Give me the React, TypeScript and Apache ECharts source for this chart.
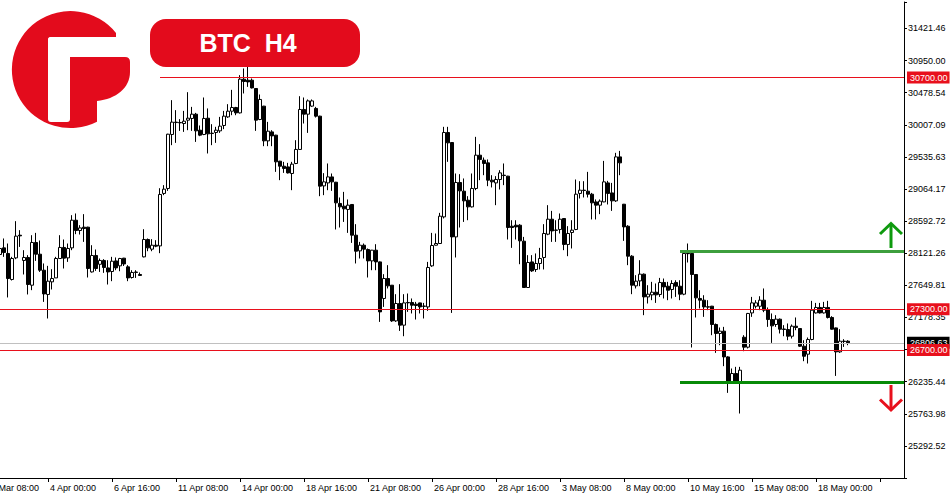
import React, { useEffect, useRef } from "react";
import * as echarts from "echarts";

// ---- x axis (one tick label every 16 H4 bars; first tick is 4 bars before bar 0)
const xTickLabels = [
  "30 Mar 08:00", "4 Apr 00:00", "6 Apr 16:00", "11 Apr 08:00", "14 Apr 00:00",
  "18 Apr 16:00", "21 Apr 08:00", "26 Apr 00:00", "28 Apr 16:00", "3 May 08:00",
  "8 May 00:00", "10 May 16:00", "15 May 08:00", "18 May 00:00",
];
const TICK_EVERY = 16;
const LEAD = 4;   // empty slots before first bar
const TRAIL = 14; // empty slots after last bar (chart shift)

// ---- y axis tick labels
const yTickLabels = [
  "25292.52", "25763.98", "26235.44", "26706.90", "27178.35", "27649.81", "28121.26",
  "28592.72", "29064.17", "29535.63", "30007.09", "30478.54", "30950.00", "31421.46",
];
const Y_STEP = 471.4569;
const Y_MIN = 24821.06;
const Y_MAX = 31810;

// ---- OHLC (BTC, H4)
const opens = [
  28103, 28200, 28118, 27736, 28053, 28386, 28015, 28059, 27652, 28279,
  28107, 27872, 27516, 27701, 27759, 28044, 28206, 28053, 28200, 28606,
  28455, 28504, 28504, 27847, 28088, 27959, 28015, 27906, 27853, 28009,
  27936, 28049, 27921, 27765, 27845, 27809, 28068, 28323, 28181, 28239,
  28229, 28999, 29072, 29865, 30046, 30041, 30026, 30075, 30100, 30163,
  29928, 29865, 30104, 29884, 29894, 29918, 29997, 30123, 30207, 30261,
  30182, 30677, 30662, 30662, 30540, 30085, 30281, 29771, 29903, 29855,
  29473, 29399, 29389, 29292, 29439, 29645, 30232, 30163, 30281, 30247,
  30134, 29110, 29154, 29242, 29164, 28852, 28812, 28764, 28837, 28386,
  28156, 28239, 28176, 28009, 28166, 27994, 27457, 27750, 27652, 27128,
  27383, 27065, 27398, 27398, 27373, 27392, 27345, 27333, 27936, 28239,
  28264, 28655, 29894, 29747, 28361, 29160, 29032, 28900, 28802, 29072,
  29561, 29487, 29448, 29194, 29154, 29204, 29267, 29253, 28518, 28533,
  28533, 28298, 27618, 27994, 27882, 27971, 28059, 28401, 28621, 28462,
  28470, 28631, 28250, 28426, 28470, 28999, 29047, 29032, 28988, 28875,
  28827, 28875, 29154, 29007, 28890, 29536, 28841, 28518, 28078, 27642,
  27715, 27814, 27480, 27510, 27549, 27516, 27692, 27637, 27589, 27692,
  27637, 27520, 28120, 28118, 27809, 27457, 27432, 27335, 27344, 27075,
  26943, 26977, 26599, 26232, 26355, 26232, 26888, 26742, 27245, 27343,
  27343, 27432, 27295, 27148, 27075, 27153, 27008, 27001, 26903, 27050,
  27016, 26756, 26639, 26855, 27245, 27325, 27245, 27325, 27178, 27025,
  26673, 26830, 26830,
];
const highs = [
  28298, 28338, 28264, 28068, 28592, 28460, 28166, 28093, 28386, 28420,
  28308, 27971, 27936, 27887, 28068, 28386, 28323, 28264, 28680, 28705,
  28533, 28695, 28510, 28239, 28176, 28044, 28034, 28019, 28068, 28059,
  28053, 28053, 27946, 27872, 27872, 27839, 28474, 28338, 28328, 28313,
  29076, 29121, 29875, 30369, 30222, 30090, 30211, 30486, 30270, 30182,
  29997, 30408, 30247, 30016, 29977, 30123, 30211, 30310, 30520, 30270,
  30736, 30834, 30858, 30687, 30545, 30452, 30285, 30050, 29928, 29860,
  29478, 29463, 29448, 29463, 29781, 30427, 30408, 30379, 30379, 30270,
  30140, 29297, 29439, 29292, 29169, 28940, 29022, 28911, 28840, 28548,
  28288, 28264, 28191, 28170, 28254, 28000, 27814, 27946, 27655, 27520,
  27667, 27520, 27530, 27457, 27407, 27395, 27392, 27994, 28420, 28411,
  28714, 29977, 29977, 29750, 29292, 29282, 29219, 28959, 29292, 29830,
  29723, 29527, 29498, 29267, 29253, 29341, 29439, 29258, 28606, 28606,
  28548, 28361, 28093, 28093, 28118, 28200, 28548, 28827, 28743, 28606,
  28705, 28636, 28519, 28606, 29204, 29179, 29179, 29316, 29007, 28911,
  28911, 29477, 29184, 29154, 29595, 29624, 28845, 28533, 28093, 27799,
  28019, 27824, 27652, 27701, 27677, 27759, 27750, 27701, 27725, 27725,
  27725, 28156, 28264, 28142, 27815, 27578, 27505, 27432, 27348, 27090,
  27031, 27040, 26609, 26429, 26453, 26453, 26918, 27245, 27480, 27432,
  27490, 27604, 27325, 27237, 27212, 27163, 27065, 27090, 27075, 27178,
  27020, 26844, 26884, 27422, 27392, 27392, 27407, 27422, 27197, 27030,
  27006, 26859, 26844,
];
const lows = [
  27736, 28068, 27472, 27721, 28034, 28214, 27809, 27516, 27579, 28009,
  27847, 27407, 27163, 27589, 27759, 28040, 27897, 27994, 28166, 28401,
  28396, 28288, 27765, 27837, 27862, 27847, 27833, 27662, 27711, 27872,
  27857, 27934, 27711, 27750, 27759, 27790, 28060, 28151, 28151, 28210,
  28122, 28974, 29037, 29708, 29742, 29918, 29903, 29928, 29918, 29756,
  29840, 29855, 29586, 29708, 29742, 29888, 29943, 30109, 30148, 30148,
  30173, 30467, 30564, 30540, 29918, 30075, 29693, 29693, 29693, 29316,
  29194, 29301, 29292, 29047, 29429, 29640, 30026, 29888, 30270, 30114,
  28959, 28974, 29047, 29037, 28470, 28499, 28581, 28420, 28273, 27971,
  28044, 28044, 27765, 27872, 27872, 27113, 27333, 27604, 27113, 27113,
  26981, 26903, 27260, 27237, 27148, 27237, 27163, 27275, 27921, 28235,
  28260, 28632, 29463, 27245, 28059, 28499, 28581, 28606, 28793, 29047,
  29194, 29267, 29106, 29087, 28827, 29057, 29121, 28323, 28200, 28323,
  27960, 27612, 27612, 27847, 27847, 27883, 27883, 28386, 28288, 28288,
  28411, 28166, 28078, 28191, 28460, 28925, 28940, 28940, 28617, 28617,
  28695, 28870, 28837, 28743, 28875, 29267, 28303, 27946, 27520, 27604,
  27637, 27212, 27383, 27432, 27392, 27480, 27457, 27432, 27457, 27480,
  27432, 27505, 27985, 26737, 27178, 27310, 27187, 27285, 26918, 26658,
  26771, 26463, 26071, 26217, 26217, 25768, 26683, 26723, 27187, 27310,
  27285, 27256, 27040, 26805, 27040, 26943, 26903, 26844, 26869, 26991,
  26746, 26536, 26502, 26844, 27236, 27236, 27236, 27163, 27001, 26320,
  26658, 26746, 26771,
];
const closes = [
  28191, 28132, 27750, 28044, 28372, 28376, 28059, 27662, 28279, 28107,
  27872, 27524, 27711, 27750, 28044, 28206, 28049, 28191, 28606, 28455,
  28493, 28484, 27897, 28088, 27897, 28015, 27912, 27847, 28004, 27906,
  28044, 27964, 27759, 27839, 27840, 27795, 28323, 28200, 28239, 28225,
  28984, 29062, 29869, 30046, 30040, 30036, 30060, 30104, 30163, 29918,
  29855, 30100, 29874, 29879, 29928, 29987, 30134, 30207, 30261, 30182,
  30677, 30643, 30637, 30549, 30075, 30379, 29771, 29913, 29844, 29463,
  29399, 29366, 29301, 29429, 29645, 30232, 30163, 30358, 30358, 30134,
  29106, 29169, 29242, 29169, 28861, 28802, 28773, 28827, 28386, 28151,
  28239, 28181, 28009, 28166, 27994, 27260, 27750, 27642, 27128, 27383,
  27065, 27392, 27393, 27358, 27354, 27333, 27342, 27912, 28235, 28264,
  28665, 29894, 29742, 28361, 29160, 29037, 28890, 28802, 29072, 29561,
  29498, 29439, 29194, 29169, 29204, 29301, 29262, 28499, 28499, 28508,
  28303, 27618, 27985, 27862, 27971, 28044, 28411, 28621, 28449, 28458,
  28621, 28250, 28411, 28460, 28988, 29047, 29042, 28988, 28861, 28827,
  28886, 29169, 28999, 28890, 29536, 29448, 28508, 28078, 27652, 27711,
  27814, 27480, 27520, 27549, 27510, 27692, 27627, 27578, 27677, 27637,
  27520, 28118, 28115, 27809, 27466, 27432, 27333, 27330, 27075, 26943,
  26977, 26599, 26232, 26355, 26232, 26404, 26742, 27237, 27392, 27392,
  27432, 27285, 27148, 27055, 27153, 27006, 27003, 26903, 27050, 27031,
  26756, 26609, 26855, 27285, 27325, 27245, 27325, 27178, 27006, 26673,
  26830, 26826, 26806.63,
];

// ---- levels
const redLevelTop = 30700;
const redLevelMid = 27300;
const redLevelLow = 26700;
const redTopStartBar = 40;
const greenUpper = 28156;
const greenLower = 26220;
const greenStartBar = 170;

const RED = "#e8101c";

let logoRegistered = false;
function registerLogo() {
  if (logoRegistered) return;
  const Logo = echarts.graphic.extendPath(
    "M116 33 A58.5 58.5 0 1 0 97 121.7 L97 101 C116 99 130 88 130 72 L130 62 Q130 57 125 57 L116 57 Z",
    {}
  );
  echarts.graphic.registerShape("logo", Logo as any);
  logoRegistered = true;
}

export default function App() {
  const ref = useRef<HTMLDivElement>(null);

  useEffect(() => {
    if (!ref.current) return;
    registerLogo();
    const chart = echarts.init(ref.current, null, { renderer: "svg" });

    const nBars = opens.length;
    const nCat = LEAD + nBars + TRAIL;
    const categories = Array.from({ length: nCat }, (_, k) => String(k - LEAD));
    const lastCat = categories[nCat - 1];
    const candleData = categories.map((_, k) => {
      const i = k - LEAD;
      if (i < 0 || i >= nBars) return "-";
      return [opens[i], closes[i], lows[i], highs[i]];
    });
    const lastClose = closes[nBars - 1];

    const tagLabel = (text: string, bg: string) => ({
      show: true,
      position: "end",
      distance: 3,
      formatter: text,
      color: "#fff",
      backgroundColor: bg,
      padding: [2, 2, 1, 3],
      fontSize: 9,
      fontFamily: "Liberation Sans, Arial, sans-serif",
    });
    const noLabel = { show: false };

    const option: any = {
      animation: false,
      backgroundColor: "#fff",
      grid: {
        left: -16, right: 46, top: 2, bottom: 22,
        containLabel: false, outerBoundsMode: "none",
      },
      xAxis: {
        type: "category",
        data: categories,
        boundaryGap: false,
        axisLine: { lineStyle: { color: "#000", width: 1 } },
        axisTick: {
          show: true,
          length: 4,
          lineStyle: { color: "#000" },
          interval: (index: number) => index % TICK_EVERY === 0,
        },
        axisLabel: {
          interval: (index: number) => index % TICK_EVERY === 0,
          formatter: (_v: string, index: number) =>
            index % TICK_EVERY === 0 ? xTickLabels[index / TICK_EVERY] ?? "" : "",
          align: "left",
          padding: [0, 0, 0, 2],
          margin: 5,
          color: "#000",
          fontSize: 9,
          fontFamily: "Liberation Sans, Arial, sans-serif",
        },
        splitLine: { show: false },
      },
      yAxis: {
        type: "value",
        position: "right",
        min: Y_MIN,
        max: Y_MAX,
        interval: Y_STEP,
        scale: true,
        axisLine: { show: true, lineStyle: { color: "#000", width: 1 } },
        axisTick: { show: true, length: 3, lineStyle: { color: "#000" } },
        axisLabel: {
          margin: 4,
          color: "#000",
          fontSize: 9,
          fontFamily: "Liberation Sans, Arial, sans-serif",
          formatter: (v: number) => {
            const s = yTickLabels.find((t) => Math.abs(parseFloat(t) - v) < 1);
            return s ?? "";
          },
        },
        splitLine: { show: false },
      },
      series: [
        {
          type: "candlestick",
          data: candleData,
          barWidth: 3,
          itemStyle: {
            color: "#fff",
            color0: "#000",
            borderColor: "#000",
            borderColor0: "#000",
            borderWidth: 1,
          },
          markLine: {
            silent: true,
            symbol: ["none", "none"],
            animation: false,
            data: [
              [
                { coord: [String(redTopStartBar), redLevelTop], lineStyle: { color: RED, width: 1, type: "solid" }, label: noLabel },
                { coord: [lastCat, redLevelTop] },
              ],
              { yAxis: redLevelMid, lineStyle: { color: RED, width: 1, type: "solid" }, label: tagLabel("27300.00", RED) },
              { yAxis: lastClose, lineStyle: { color: "#c0c0c0", width: 1, type: "solid" }, label: tagLabel(lastClose.toFixed(2), "#000") },
              { yAxis: redLevelLow, lineStyle: { color: RED, width: 1, type: "solid" }, label: tagLabel("26700.00", RED) },
              { yAxis: redLevelTop, lineStyle: { color: "rgba(0,0,0,0)", width: 1 }, label: tagLabel("30700.00", RED) },
              [
                { coord: [String(greenStartBar), greenUpper], lineStyle: { color: "#3d9f3d", width: 3, type: "solid" }, label: noLabel },
                { coord: [lastCat, greenUpper] },
              ],
              [
                { coord: [String(greenStartBar), greenLower], lineStyle: { color: "#078a07", width: 3, type: "solid" }, label: noLabel },
                { coord: [lastCat, greenLower] },
              ],
            ],
          },
        },
      ],
      graphic: [
        // logo
        { type: "logo", x: 0, y: 0, scaleX: 1, scaleY: 1, style: { fill: "#e30b1c" }, z: 100 },
        { type: "rect", shape: { x: 48, y: 37, width: 68, height: 20, r: [3, 0, 0, 0] }, style: { fill: "#fff" }, z: 101 },
        { type: "rect", shape: { x: 48, y: 37, width: 22, height: 85, r: [3, 0, 3, 3] }, style: { fill: "#fff" }, z: 101 },
        // title badge
        { type: "rect", shape: { x: 150, y: 19, width: 210, height: 48, r: 16 }, style: { fill: "#e30b1c" }, z: 100 },
        {
          type: "text", x: 248, y: 43, z: 101,
          style: { text: "BTC  H4", fill: "#fff", font: "bold 25px 'Liberation Sans', Arial, sans-serif", textAlign: "center", textVerticalAlign: "middle" },
        },
        // up arrow (green)
        { type: "polyline", shape: { points: [[891, 248], [891, 225]] }, style: { stroke: "#0e9a0e", lineWidth: 3, fill: null }, z: 100 },
        { type: "polyline", shape: { points: [[880, 234], [891, 223.5], [902, 234]] }, style: { stroke: "#0e9a0e", lineWidth: 3, fill: null }, z: 100 },
        // down arrow (red)
        { type: "polyline", shape: { points: [[891, 385], [891, 408]] }, style: { stroke: RED, lineWidth: 3, fill: null }, z: 100 },
        { type: "polyline", shape: { points: [[880, 399.5], [891, 410], [902, 399.5]] }, style: { stroke: RED, lineWidth: 3, fill: null }, z: 100 },
      ],
    };

    chart.setOption(option);
    return () => chart.dispose();
  }, []);

  return (
    <div
      ref={ref}
      style={{ position: "fixed", left: 0, top: 0, width: 950, height: 500, background: "#fff" }}
    />
  );
}
